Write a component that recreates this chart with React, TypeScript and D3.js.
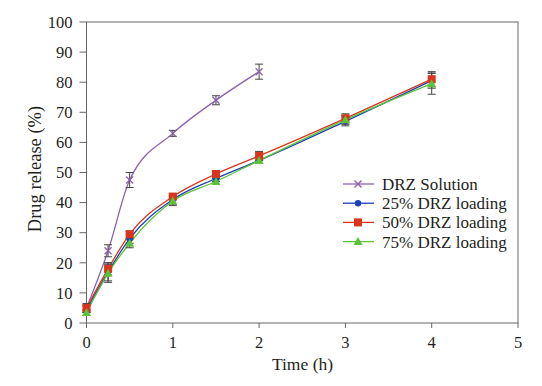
import React from "react";
import * as d3 from "d3";

const timesSolution = [0, 0.25, 0.5, 1, 1.5, 2];
const solution = [5, 24, 47.5, 63, 74, 83.5];
const solutionErr = [1.5, 2, 2.5, 1, 1.5, 2.5];

const timesLoaded = [0, 0.25, 0.5, 1, 1.5, 2, 3, 4];
const load25 = [4.5, 17, 28, 41, 48, 54, 67, 80.5];
const load25Err = [1, 3, 1.5, 1.5, 1, 1, 1.5, 2.5];
const load50 = [5, 18, 29.5, 42, 49.5, 55.5, 68, 81];
const load50Err = [1, 2, 1, 1, 1, 1.5, 1.5, 2.5];
const load75 = [3.5, 16.5, 26.5, 40.5, 47, 54, 67.5, 79.5];
const load75Err = [1, 3, 1.5, 1.5, 1, 1, 1.5, 3.5];

const xTicks = [0, 1, 2, 3, 4, 5];
const yTicks = [0, 10, 20, 30, 40, 50, 60, 70, 80, 90, 100];

const seriesNames = ["DRZ Solution", "25% DRZ loading", "50% DRZ loading", "75% DRZ loading"];
const colors = ["#8a64b0", "#1b3fb8", "#d8351c", "#5cc23a"];

export default function App() {
  const W = 542, H = 386;
  const left = 86.5, right = 518, top = 22, bottom = 323;
  const x = d3.scaleLinear().domain([0, 5]).range([left, right]);
  const y = d3.scaleLinear().domain([0, 100]).range([bottom, top]);
  const font = "'Liberation Serif', 'DejaVu Serif', serif";
  const txt = "#231f20";
  const axisC = "#666";

  const series = [
    { t: timesSolution, v: solution, e: solutionErr },
    { t: timesLoaded, v: load25, e: load25Err },
    { t: timesLoaded, v: load50, e: load50Err },
    { t: timesLoaded, v: load75, e: load75Err },
  ];

  const line = d3
    .line<[number, number]>()
    .x((d) => x(d[0]))
    .y((d) => y(d[1]))
    .curve(d3.curveMonotoneX);

  const marker = (i: number, cx: number, cy: number, key: string) => {
    const c = colors[i];
    if (i === 0)
      return (
        <g key={key} stroke={c} strokeWidth={1.4}>
          <line x1={cx - 3.5} y1={cy - 3.5} x2={cx + 3.5} y2={cy + 3.5} />
          <line x1={cx - 3.5} y1={cy + 3.5} x2={cx + 3.5} y2={cy - 3.5} />
        </g>
      );
    if (i === 1) return <circle key={key} cx={cx} cy={cy} r={3.2} fill={c} />;
    if (i === 2) return <rect key={key} x={cx - 4} y={cy - 4} width={8} height={8} fill={c} />;
    return (
      <path key={key} d={`M${cx},${cy - 4.5}L${cx + 4.5},${cy + 3.5}L${cx - 4.5},${cy + 3.5}Z`} fill={c} />
    );
  };

  return (
    <svg width={W} height={H} style={{ position: "absolute", left: 0, top: 0, background: "#fff" }}>
      <rect x={0} y={0} width={W} height={H} fill="#fff" />
      <rect x={left} y={top} width={right - left} height={bottom - top} fill="none" stroke={axisC} strokeWidth={1} />
      {yTicks.map((t) => (
        <g key={"y" + t}>
          <line x1={left - 7} x2={left} y1={y(t)} y2={y(t)} stroke={axisC} />
          <text x={left - 14} y={y(t)} dy="0.35em" textAnchor="end" fontFamily={font} fontSize={16.5} fill={txt}>
            {t}
          </text>
        </g>
      ))}
      {xTicks.map((t) => (
        <g key={"x" + t}>
          <line x1={x(t)} x2={x(t)} y1={bottom} y2={bottom + 5} stroke={axisC} />
          <text x={x(t)} y={348} textAnchor="middle" fontFamily={font} fontSize={16.5} fill={txt}>
            {t}
          </text>
        </g>
      ))}
      <text x={302.5} y={370} textAnchor="middle" fontFamily={font} fontSize={17.5} fill={txt}>
        Time (h)
      </text>
      <text
        transform={`translate(41,169) rotate(-90)`}
        textAnchor="middle"
        fontFamily={font}
        fontSize={18.5}
        fill={txt}
      >
        Drug release (%)
      </text>
      {series.map((s, i) => (
        <path
          key={"l" + i}
          d={line(s.t.map((t, j) => [t, s.v[j]] as [number, number])) || ""}
          fill="none"
          stroke={colors[i]}
          strokeWidth={1.3}
        />
      ))}
      {series.map((s, i) =>
        s.t.map((t, j) => (
          <g key={`e${i}-${j}`} stroke="#444" strokeWidth={1}>
            <line x1={x(t)} x2={x(t)} y1={y(s.v[j] - s.e[j])} y2={y(s.v[j] + s.e[j])} />
            <line x1={x(t) - 4} x2={x(t) + 4} y1={y(s.v[j] - s.e[j])} y2={y(s.v[j] - s.e[j])} />
            <line x1={x(t) - 4} x2={x(t) + 4} y1={y(s.v[j] + s.e[j])} y2={y(s.v[j] + s.e[j])} />
          </g>
        ))
      )}
      {series.map((s, i) => s.t.map((t, j) => marker(i, x(t), y(s.v[j]), `m${i}-${j}`)))}
      {seriesNames.map((n, i) => {
        const ly = 184 + i * 19.2;
        return (
          <g key={"lg" + i}>
            <line x1={343} x2={374} y1={ly} y2={ly} stroke={colors[i]} strokeWidth={1.3} />
            {marker(i, 358, ly, "lm" + i)}
            <text x={382} y={ly} dy="0.35em" fontFamily={font} fontSize={17} fill={txt}>
              {n}
            </text>
          </g>
        );
      })}
    </svg>
  );
}
